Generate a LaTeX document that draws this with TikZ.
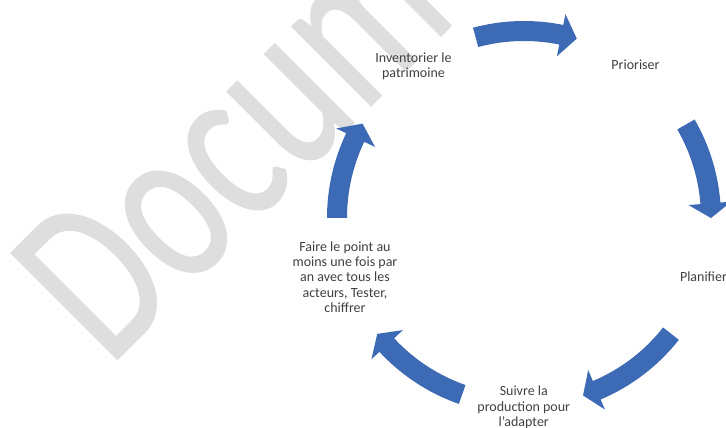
\documentclass[tikz,border=0pt]{standalone}
\usepackage{fontspec}
\setmainfont{Carlito}
\newfontfamily\wmfont[FakeBold=0.6]{Carlito}
\usetikzlibrary{calc}
\definecolor{cycleblue}{RGB}{61,106,180}
\definecolor{cycletext}{RGB}{64,64,64}
\definecolor{wmgray}{RGB}{222,222,222}

\begin{document}
\begin{tikzpicture}[x=0.75pt, y=0.75pt,
    lbl/.style={align=center, text=cycletext, inner sep=0pt,
                font=\fontsize{10.5}{11.5}\selectfont},
    cyc/.style={fill=cycleblue}
  ]
  \useasboundingbox (0,0) rectangle (726,428);
  \clip (0,0) rectangle (726,428);
  % watermark
  \node[wmgray, rotate=45, anchor=base west, inner sep=0pt] (wm) at (109,60)
    {\scalebox{0.73}[1]{\fontsize{176}{176}\wmfont Document}};
  \coordinate (ctr) at (524,210);
  \node[lbl] (inv) at (413.5,362) {Inventorier le\\ patrimoine};
  \node[lbl] (prio) at (635.5,363) {Prioriser};
  \node[lbl] (plan) at (703.5,151.3) {Planifier};
  \node[lbl] (suiv) at (523.8,20.7) {Suivre la\\ production pour\\ l’adapter};
  \node[lbl] (fair) at (345,151) {Faire le point au\\ moins une fois par\\ an avec tous les\\ acteurs, Tester,\\ chiffrer};
  % arrows: tail / head base / tip angles
  \foreach \ta/\tb/\tc in {105/78.5/73.6, 30/4.5/0, -38.2/-67.1/-71.6,
                           -109.3/-137.2/-141.7, 180/154.5/149.7}
    \fill[cyc] ($(ctr)+(\ta:197)$) arc[start angle=\ta, end angle=\tb, radius=197]
      -- ($(ctr)+(\tb:208)$) -- ($(ctr)+(\tc:187)$) -- ($(ctr)+(\tb:165)$)
      -- ($(ctr)+(\tb:177)$) arc[start angle=\tb, end angle=\ta, radius=177] -- cycle;
\end{tikzpicture}
\end{document}
